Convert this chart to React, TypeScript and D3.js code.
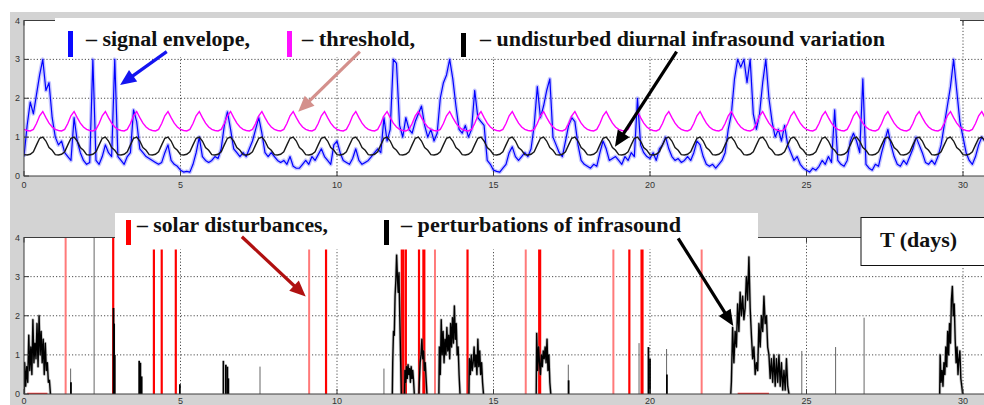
import React from 'react';
import * as d3 from 'd3';

// ---------- data ----------
const dayTicks = [0, 5, 10, 15, 20, 25, 30];
const valueTicks = [0, 1, 2, 3, 4];
const gridDays = [5, 10, 15, 20, 25, 30];
const gridValues = [1, 2, 3];

// one day (10 samples / day) of the undisturbed diurnal variation and the threshold
const diurnalProfile = [0.55, 0.54, 0.56, 0.62, 0.8, 0.97, 1.0, 0.9, 0.73, 0.66];
const thresholdProfile = [1.2, 1.17, 1.16, 1.2, 1.35, 1.55, 1.66, 1.5, 1.36, 1.26];
const profileDays = 31;

// signal envelope, 0.1 day step starting at day 0
const envelopeStep = 0.1;
const envelope = [
  0.5, 1.3, 1.9, 1.6, 2.1, 2.6, 3.0, 2.2, 2.4, 1.5,
  1.0, 0.8, 0.9, 0.6, 0.5, 0.4, 1.5, 0.9, 0.6, 0.4,
  0.3, 0.35, 3.0, 0.4, 0.3, 0.5, 0.8, 0.6, 0.5, 3.0,
  0.5, 0.4, 0.3, 0.5, 0.6, 1.7, 1.4, 0.7, 0.6, 0.5,
  0.45, 0.4, 0.35, 0.3, 0.35, 0.6, 0.8, 0.4, 0.3, 0.25,
  0.15, 0.1, 0.12, 0.1, 0.3, 0.6, 1.0, 0.5, 0.4, 0.35,
  0.4, 0.5, 0.45, 0.7, 1.3, 1.65, 1.2, 0.7, 0.6, 0.5,
  0.6, 0.5, 0.7, 0.9, 1.2, 1.5, 1.1, 0.6, 0.5, 0.6,
  0.5, 0.4, 0.35, 0.4, 0.3, 0.5, 0.25, 0.2, 0.2, 0.3,
  0.4, 0.3, 0.5, 0.4, 0.55, 0.7, 0.5, 0.4, 0.3, 0.8,
  0.9, 0.6, 0.4, 0.35, 0.3, 0.45, 0.7, 0.4, 0.3, 0.35,
  0.4, 0.5, 0.6, 0.7, 0.6, 1.5, 0.9, 1.2, 3.0, 2.9,
  1.3, 1.0, 1.5, 1.2, 1.1, 1.4, 1.6, 1.8, 1.3, 1.0,
  1.2, 0.9, 1.1, 2.0, 2.4, 2.6, 3.0, 2.5, 1.8, 1.2,
  1.1, 1.3, 1.0, 1.2, 2.2, 1.5, 1.4, 1.3, 0.4, 0.3,
  0.15, 0.12, 0.1, 0.2, 0.3, 0.6, 0.75, 0.5, 0.4, 0.5,
  0.6, 0.5, 0.7, 1.3, 2.3, 1.5, 1.8, 2.2, 2.5, 1.0,
  0.8, 0.6, 0.5, 0.9, 1.3, 1.5, 1.4, 0.8, 0.4, 0.3,
  0.25, 0.2, 0.3, 0.25, 0.6, 0.9, 0.7, 0.4, 0.45, 0.5,
  0.4, 0.3, 0.5, 0.4, 0.6, 0.5, 2.0, 0.8, 0.6, 0.5,
  0.45, 0.6, 0.4, 0.7, 0.8, 1.0, 0.7, 0.5, 0.4, 0.45,
  0.35, 0.4, 0.5, 0.4, 0.6, 0.9, 0.8, 0.5, 0.3, 0.25,
  0.3, 0.2, 0.3, 0.4, 0.6, 1.2, 1.6, 2.5, 3.0, 2.8,
  3.0, 2.4, 3.0, 1.6, 1.2, 1.6, 2.4, 3.0, 2.0, 1.4,
  1.0, 1.2, 0.9, 1.3, 0.8, 0.6, 0.4, 0.5, 0.3, 0.2,
  0.15, 0.1, 0.2, 0.15, 0.25, 0.4, 0.3, 0.5, 0.35, 1.7,
  0.4, 0.3, 0.25, 0.4, 0.9, 1.1, 0.9, 0.6, 2.5, 0.3,
  0.2, 0.15, 0.3, 0.25, 0.6, 0.9, 1.2, 0.8, 0.5, 0.3,
  0.25, 0.4, 0.3, 0.5, 0.7, 1.0, 0.8, 0.6, 0.35, 0.3,
  0.4, 0.3, 0.5, 0.8, 1.3, 1.8, 2.3, 3.0, 2.2, 1.4,
  1.0, 0.6, 0.4, 0.3, 0.5, 0.8, 1.0, 0.9,
];

// solar disturbances (days), and which ones are drawn faint
const solarDays = [1.33, 2.85, 4.15, 4.4, 4.85, 9.11, 9.65, 12.07, 12.12, 12.2, 12.62, 12.76, 12.79, 13.13, 14.17, 16.03, 16.46, 16.49, 18.83, 19.34, 19.73, 19.76, 21.65];
const solarFaint = [true, false, false, false, false, true, false, false, false, false, false, false, false, true, false, true, false, false, true, false, false, false, true];
const solarLevel = 4;
const solarBaseline: [number, number][] = [[0.1, 0.75], [22.8, 23.8]];

// isolated perturbation spikes: [day, value, faint]
const perturbSpikes: [number, number, boolean][] = [
  [1.49, 0.65, true], [1.5, 0.3, false], [2.24, 4.0, true], [2.86, 2.2, false], [2.88, 1.8, false], [2.9, 1.0, false],
  [3.68, 0.85, false], [3.72, 0.8, false], [3.76, 0.45, false], [4.98, 0.25, false],
  [6.37, 0.85, false], [6.45, 0.75, false], [6.5, 0.7, false], [6.53, 0.4, false], [7.54, 0.7, true],
  [11.5, 0.65, true], [17.39, 0.75, true], [17.4, 0.35, false], [19.65, 1.3, true], [19.95, 1.2, false], [20.0, 0.9, false],
  [20.53, 1.15, true], [20.54, 0.5, false], [24.85, 1.1, true], [25.93, 1.2, true], [26.84, 1.95, true],
];

// perturbation bursts: start day, step, values
const burstStarts = [0.02, 11.78, 12.17, 12.63, 13.27, 14.23, 16.38, 22.6, 29.27];
const burstSteps = [0.033, 0.025, 0.025, 0.027, 0.03, 0.03, 0.03, 0.04, 0.03];
const burstValues = [
  [0.8, 0.2, 0.7, 0.3, 1.5, 0.6, 1.2, 0.5, 1.9, 0.8, 1.3, 0.9, 1.8, 0.7, 2.0, 1.0, 1.6, 0.8, 1.4, 0.5, 1.3, 0.6, 0.8, 0.3, 0.35],
  [0.8, 1.6, 1.5, 2.5, 2.9, 3.55, 3.0, 2.6, 3.1, 2.0, 1.0],
  [0.6, 0.3, 0.7, 0.4, 0.75, 0.5, 0.65, 0.3, 0.7, 0.4, 0.6, 0.35],
  [0.3, 0.8, 1.0, 1.4, 0.9, 1.1, 0.6, 0.8, 0.4],
  [1.2, 0.5, 1.9, 1.0, 1.6, 0.8, 1.4, 1.0, 1.7, 1.1, 1.5, 0.9, 1.8, 1.2, 1.95, 1.3, 2.25, 1.4, 1.8, 1.0, 1.2, 0.5],
  [0.9, 0.5, 1.0, 0.6, 0.8, 1.2, 0.7, 1.0, 0.5, 1.4, 0.7, 1.1, 0.5, 0.8, 0.3],
  [1.55, 0.6, 1.2, 0.8, 0.5, 1.0, 0.7, 1.1, 0.9, 1.2, 0.8, 1.4, 0.6, 1.0, 0.3],
  [0.3, 1.7, 0.8, 1.6, 1.2, 2.3, 1.6, 2.6, 2.0, 2.5, 1.9, 2.2, 3.0, 2.4, 3.5, 2.2, 1.5, 0.9, 1.2, 0.5, 0.8, 0.6, 1.8, 1.2, 2.0, 1.6, 2.5, 1.8, 2.0, 1.2, 1.0, 0.4, 0.9, 0.3, 1.0, 0.2, 0.9, 0.3, 1.0, 0.2, 0.8, 0.1, 0.6, 0.1, 0.9, 0.2],
  [1.0, 0.3, 0.6, 0.2, 0.8, 0.5, 1.2, 0.7, 1.6, 1.0, 1.8, 1.3, 2.4, 2.75, 2.0, 2.3, 1.4, 0.8, 1.2, 0.5, 0.9, 1.1, 0.4, 0.2, 0],
];

// legend labels
const topLegend = ['– signal envelope,', '– threshold,', '– undisturbed diurnal infrasound variation'];
const bottomLegend = ['– solar disturbances,', '– perturbations of infrasound'];
const axisTitle = 'T (days)';

// annotation arrows (data coordinates): [x0, y0, x1(tip), y1(tip)]
const topArrows: [number, number, number, number, string][] = [
  [4.56, 3.2, 3.07, 2.34, '#1414f0'],
  [10.73, 3.2, 8.76, 1.65, '#d4908c'],
  [20.85, 3.2, 18.88, 0.75, '#000000'],
];
const bottomArrows: [number, number, number, number, string][] = [
  [6.96, 4.02, 9.0, 2.49, '#b01010'],
  [20.9, 3.98, 22.66, 1.74, '#000000'],
];

// ---------- component ----------
const FIG_BG = '#d3d3d3';
const SERIF = '"Liberation Serif", "Times New Roman", serif';
const SANS = '"Liberation Sans", Arial, sans-serif';

function Arrow({ x0, y0, x1, y1, color }: { x0: number; y0: number; x1: number; y1: number; color: string }) {
  const dx = x1 - x0, dy = y1 - y0;
  const len = Math.hypot(dx, dy);
  const ux = dx / len, uy = dy / len;
  const headL = 16, headW = 7;
  const bx = x1 - ux * headL, by = y1 - uy * headL;
  const px = -uy, py = ux;
  const pts = `${x1},${y1} ${bx + px * headW},${by + py * headW} ${bx - px * headW},${by - py * headW}`;
  return (
    <g>
      <line x1={x0} y1={y0} x2={bx + ux * 2} y2={by + uy * 2} stroke={color} strokeWidth={3.2} />
      <polygon points={pts} fill={color} />
    </g>
  );
}

export default function App() {
  const x = d3.scaleLinear().domain([0, 31]).range([24, 24 + 31 * 31.3]);
  const yTop = d3.scaleLinear().domain([0, 4]).range([176, 20.5]);
  const yBot = d3.scaleLinear().domain([0, 4]).range([394, 237.5]);
  const left = x(0), right = x(31);

  const tiled = (profile: number[]) => {
    const pts: [number, number][] = [];
    for (let d = 0; d < profileDays; d++) profile.forEach((v, i) => pts.push([d + i / profile.length, v]));
    return pts;
  };
  const diurnal = tiled(diurnalProfile);
  const threshold = tiled(thresholdProfile);
  const envPts: [number, number][] = envelope.map((v, i) => [i * envelopeStep, v]);

  const lineTop = d3.line<[number, number]>().x(d => x(d[0])).y(d => yTop(d[1]));
  const lineBot = d3.line<[number, number]>().x(d => x(d[0])).y(d => yBot(d[1]));

  const bursts = burstValues.map((vals, k) => {
    const s = burstStarts[k], st = burstSteps[k];
    const pts: [number, number][] = [[s - st * 0.5, 0]];
    vals.forEach((v, i) => pts.push([s + i * st, v]));
    pts.push([s + vals.length * st, 0]);
    return pts;
  });

  const panel = (y: d3.ScaleLinear<number, number>, clipId: string) => (
    <g>
      <rect x={left} y={y(4)} width={right - left} height={y(0) - y(4)} fill="#fff" />
      <defs>
        <clipPath id={clipId}>
          <rect x={left} y={y(4) - 1} width={right - left} height={y(0) - y(4) + 1} />
        </clipPath>
      </defs>
      {gridDays.map(d => (
        <line key={'gx' + d} x1={x(d)} x2={x(d)} y1={y(0)} y2={y(4)} stroke="#3a3a3a" strokeWidth={0.9} strokeDasharray="1.2,2" />
      ))}
      {gridValues.map(v => (
        <line key={'gy' + v} x1={left} x2={right} y1={y(v)} y2={y(v)} stroke="#3a3a3a" strokeWidth={0.9} strokeDasharray="1.2,2" />
      ))}
    </g>
  );

  const frame = (y: d3.ScaleLinear<number, number>, labelY: number) => (
    <g>
      <rect x={left} y={y(4)} width={right - left} height={y(0) - y(4)} fill="none" stroke="#3c3c3c" strokeWidth={1} />
      {dayTicks.map(d => (
        <g key={'t' + d}>
          <line x1={x(d)} x2={x(d)} y1={y(0)} y2={y(0) - 5} stroke="#3c3c3c" />
          <line x1={x(d)} x2={x(d)} y1={y(4)} y2={y(4) + 5} stroke="#3c3c3c" />
        </g>
      ))}
      {valueTicks.map(v => (
        <line key={'vt' + v} x1={left} x2={left + 5} y1={y(v)} y2={y(v)} stroke="#3c3c3c" />
      ))}
      {dayTicks.map(d => (
        <text key={'xl' + d} x={x(d)} y={labelY} fontFamily={SANS} fontSize={9} fill="#333" textAnchor="middle">{d}</text>
      ))}
      {valueTicks.map(v => (
        <text key={'yl' + v} x={left - 4} y={y(v) + 3} fontFamily={SANS} fontSize={9} fill="#333" textAnchor="end">{v}</text>
      ))}
    </g>
  );

  const legendText = { fontFamily: SERIF, fontWeight: 700, fontSize: 20, fill: '#111' } as const;

  return (
    <svg width={984} height={405} style={{ position: 'absolute', left: 0, top: 0 }} xmlns="http://www.w3.org/2000/svg">
      <rect x={0} y={0} width={984} height={405} fill="#fff" />
      <rect x={10} y={12} width={974} height={393} fill={FIG_BG} />

      {/* ---------- top panel ---------- */}
      {panel(yTop, 'clipTop')}
      <g clipPath="url(#clipTop)">
        <path d={lineTop(envPts) || ''} fill="none" stroke="#5a5aff" strokeOpacity={0.35} strokeWidth={4} strokeLinejoin="round" />
        <path d={lineTop(envPts) || ''} fill="none" stroke="#0000ff" strokeWidth={1.2} strokeLinejoin="round" />
        <path d={lineTop(threshold) || ''} fill="none" stroke="#ff00ff" strokeWidth={1.4} />
        <path d={lineTop(diurnal) || ''} fill="none" stroke="#1a1a1a" strokeWidth={1.4} />
      </g>
      {frame(yTop, 188)}
      {/* top legend box */}
      <rect x={55} y={18} width={905} height={39} fill="#fff" />
      <rect x={68} y={31} width={5} height={26} fill="#0a0aff" />
      <text x={86} y={46} textLength={164} lengthAdjust="spacingAndGlyphs" {...legendText}>{topLegend[0]}</text>
      <rect x={287} y={31} width={5} height={26} fill="#ff10ff" />
      <text x={302} y={46} textLength={113} lengthAdjust="spacingAndGlyphs" {...legendText}>{topLegend[1]}</text>
      <rect x={461} y={33} width={5} height={24} fill="#000" />
      <text x={480} y={46} textLength={405} lengthAdjust="spacingAndGlyphs" {...legendText}>{topLegend[2]}</text>
      {topArrows.map((a, i) => (
        <Arrow key={'ta' + i} x0={x(a[0])} y0={yTop(a[1])} x1={x(a[2])} y1={yTop(a[3])} color={a[4]} />
      ))}

      {/* ---------- bottom panel ---------- */}
      {panel(yBot, 'clipBot')}
      <g clipPath="url(#clipBot)">
        {solarBaseline.map((r, i) => (
          <line key={'sb' + i} x1={x(r[0])} x2={x(r[1])} y1={yBot(0) - 0.5} y2={yBot(0) - 0.5} stroke="#ff3030" strokeWidth={1.5} />
        ))}
        {solarDays.map((d, i) => (
          <line key={'s' + i} x1={x(d)} x2={x(d)} y1={yBot(0)} y2={yBot(solarLevel)}
            stroke={solarFaint[i] ? '#ff7a7a' : '#ff0000'} strokeWidth={solarFaint[i] ? 2 : 2.2} />
        ))}
        {perturbSpikes.map((s, i) => (
          <line key={'p' + i} x1={x(s[0])} x2={x(s[0])} y1={yBot(0)} y2={yBot(s[1])}
            stroke={s[2] ? '#666' : '#000'} strokeWidth={s[2] ? 1 : 1.8} />
        ))}
        {bursts.map((b, i) => (
          <path key={'bu' + i} d={lineBot(b) || ''} fill="none" stroke="#777" strokeOpacity={0.45} strokeWidth={3} strokeLinejoin="round" />
        ))}
        {bursts.map((b, i) => (
          <path key={'b' + i} d={lineBot(b) || ''} fill="none" stroke="#000" strokeWidth={1.4} strokeLinejoin="round" />
        ))}
      </g>
      {frame(yBot, 404)}
      {/* bottom legend box */}
      <rect x={115} y={213} width={643} height={36.5} fill="#fff" />
      <rect x={126} y={220} width={5} height={25} fill="#ff0000" />
      <text x={137} y={232} textLength={191} lengthAdjust="spacingAndGlyphs" {...legendText}>{bottomLegend[0]}</text>
      <rect x={384} y={220} width={5} height={25} fill="#000" />
      <text x={401} y={232} textLength={280} lengthAdjust="spacingAndGlyphs" {...legendText}>{bottomLegend[1]}</text>
      {/* axis title box */}
      <rect x={861} y={217.5} width={130} height={48} fill="#fff" stroke="#111" strokeWidth={1} />
      <text x={880} y={247} textLength={77} lengthAdjust="spacingAndGlyphs" {...legendText} fontSize={21}>{axisTitle}</text>
      {bottomArrows.map((a, i) => (
        <Arrow key={'ba' + i} x0={x(a[0])} y0={yBot(a[1])} x1={x(a[2])} y1={yBot(a[3])} color={a[4]} />
      ))}
    </svg>
  );
}
